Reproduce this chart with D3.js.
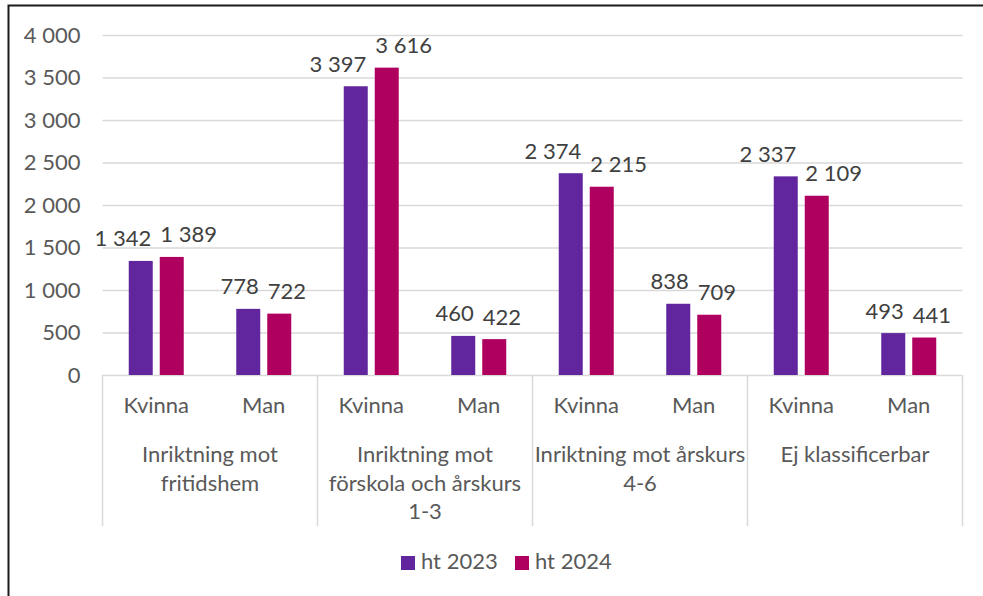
<!DOCTYPE html>
<html>

<head>
  <meta charset="utf-8" />
  <title>ht 2023 / ht 2024</title>
  <style>
    body { margin: 0; background: #fff; }
    svg { display: block; font-family: Lato, "Open Sans", sans-serif; }
  </style>
</head>

<body>
  <svg id="chart" width="983" height="596"></svg>

  <script src="https://cdn.jsdelivr.net/npm/d3@7"></script>

  <script>
    // values
    var groups = ["fritidshem", "forskola13", "arskurs46", "ejklass"]
    var groupLabels = [
      ["Inriktning mot", "fritidshem"],
      ["Inriktning mot", "förskola och årskurs", "1-3"],
      ["Inriktning mot årskurs", "4-6"],
      ["Ej klassificerbar"]
    ]
    var genders = ["Kvinna", "Man"]
    var series = ["ht 2023", "ht 2024"]
    var ht2023 = [1342, 778, 3397, 460, 2374, 838, 2337, 493]
    var ht2024 = [1389, 722, 3616, 422, 2215, 709, 2109, 441]
    var yTicks = [0, 500, 1000, 1500, 2000, 2500, 3000, 3500, 4000]
    var colors = ["#61269e", "#b0005f"]

    var svg = d3.select('#chart')
    var plotLeft = 102.5, plotRight = 962.5, plotTop = 35, plotBottom = 375
    var fontSize = '22px'

    var fmt = d3.formatLocale({ decimal: ",", thousands: " ", grouping: [3], currency: ["", ""] }).format(",")

    // frame of the embedded picture
    svg.append('path')
      .attr('d', 'M8.5,596 V5.5 H983')
      .attr('fill', 'none')
      .attr('stroke', '#1a1a1a')
      .attr('stroke-width', 2)

    var y = d3.scaleLinear().domain([0, 4000]).range([plotBottom, plotTop])
    var x0 = d3.scaleBand().domain(groups).range([plotLeft, plotRight])
    var x1 = d3.scaleBand().domain(genders).range([0, x0.bandwidth()])
    var x2 = d3.scaleBand().domain(series).range([-27.5, 27.5]).paddingInner(7 / 31)

    // y axis + grid
    var yAxis = svg.append('g')
      .attr('transform', 'translate(' + plotLeft + ',0)')
      .call(d3.axisLeft(y).tickValues(yTicks).tickFormat(fmt)
        .tickSizeInner(-(plotRight - plotLeft)).tickSizeOuter(0).tickPadding(22))
    yAxis.select('.domain').remove()
    yAxis.selectAll('.tick line').attr('stroke', '#d9d9d9').attr('stroke-width', 1.5)
    yAxis.selectAll('.tick text')
      .attr('fill', '#595959')
      .style('font-size', fontSize)
      .style('font-family', 'Lato, sans-serif')

    // category box lines under the axis
    var boundaries = groups.map(function (g) { return x0(g) }).concat([plotRight])
    svg.append('g').selectAll('line')
      .data(boundaries)
      .enter()
      .append('line')
      .attr('x1', function (d) { return d })
      .attr('x2', function (d) { return d })
      .attr('y1', plotBottom)
      .attr('y2', 526)
      .attr('stroke', '#d9d9d9')
      .attr('stroke-width', 1.5)

    // flatten data
    var rows = []
    groups.forEach(function (g, gi) {
      genders.forEach(function (k, ki) {
        var idx = gi * 2 + ki
        rows.push({ group: g, gender: k, series: series[0], value: ht2023[idx], c: colors[0] })
        rows.push({ group: g, gender: k, series: series[1], value: ht2024[idx], c: colors[1] })
      })
    })

    function pairCenter(d) {
      return x0(d.group) + x1(d.gender) + x1.bandwidth() / 2
    }
    function cx(d) {
      return pairCenter(d) + x2(d.series)
    }

    svg.append('g')
      .selectAll('rect')
      .data(rows)
      .enter()
      .append('rect')
      .attr('x', cx)
      .attr('y', function (d) { return y(d.value) })
      .attr('width', x2.bandwidth())
      .attr('height', function (d) { return y(0) - y(d.value) })
      .attr('fill', function (d) { return d.c })

    // data labels, pushed apart so the pair doesn't collide
    svg.append('g')
      .selectAll('text')
      .data(rows)
      .enter()
      .append('text')
      .attr('x', function (d) {
        return d.series === series[0] ? pairCenter(d) - 5 : pairCenter(d) + 4
      })
      .attr('y', function (d) { return y(d.value) - 14.5 })
      .attr('text-anchor', function (d) { return d.series === series[0] ? 'end' : 'start' })
      .attr('fill', '#404040')
      .style('font-size', fontSize)
      .text(function (d) { return fmt(d.value) })

    // gender labels
    var genderRows = []
    groups.forEach(function (g) {
      genders.forEach(function (k) { genderRows.push({ group: g, gender: k }) })
    })
    svg.append('g')
      .selectAll('text')
      .data(genderRows)
      .enter()
      .append('text')
      .attr('x', function (d) { return x0(d.group) + x1(d.gender) + x1.bandwidth() / 2 })
      .attr('y', 413)
      .attr('text-anchor', 'middle')
      .attr('fill', '#595959')
      .style('font-size', fontSize)
      .text(function (d) { return d.gender })

    // group labels
    var gl = svg.append('g')
      .selectAll('text')
      .data(groups)
      .enter()
      .append('text')
      .attr('x', function (d) { return x0(d) + x0.bandwidth() / 2 })
      .attr('y', 462)
      .attr('text-anchor', 'middle')
      .attr('fill', '#595959')
      .style('font-size', fontSize)
    gl.selectAll('tspan')
      .data(function (d, i) { return groupLabels[i] })
      .enter()
      .append('tspan')
      .attr('x', function () { return d3.select(this.parentNode).attr('x') })
      .attr('dy', function (d, i) { return i === 0 ? 0 : 28.5 })
      .text(function (d) { return d })

    // legend
    var legendX = [401, 515]
    var lg = svg.append('g')
      .selectAll('g')
      .data(series)
      .enter()
      .append('g')
      .attr('transform', function (d, i) { return 'translate(' + legendX[i] + ',556)' })
    lg.append('rect')
      .attr('width', 14)
      .attr('height', 14)
      .attr('fill', function (d, i) { return colors[i] })
    lg.append('text')
      .attr('x', 20)
      .attr('y', 13)
      .attr('fill', '#595959')
      .style('font-size', fontSize)
      .text(function (d) { return d })
  </script>

</body>

</html>
